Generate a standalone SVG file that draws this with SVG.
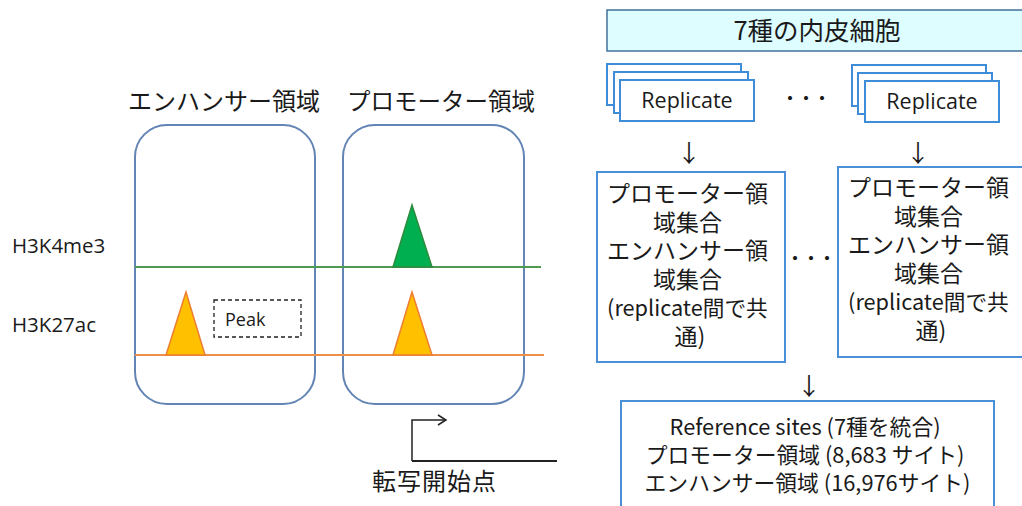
<svg xmlns="http://www.w3.org/2000/svg" width="1022" height="506" viewBox="0 0 1022 506">
<defs>
<style>
.t{font-family:"Open Sans","Noto Sans CJK JP",sans-serif;fill:#1a1a1a;}
.jp{font-family:"Noto Sans CJK JP","Open Sans",sans-serif;fill:#1a1a1a;}
.region{fill:#fff;stroke:#6385B5;stroke-width:2;}
.rep{fill:#fff;stroke:#3F8DD8;stroke-width:2;}
.box{fill:#fff;stroke:#4A90D9;stroke-width:2;}
</style>
<marker id="open" markerWidth="12" markerHeight="12" refX="10" refY="6" orient="auto" markerUnits="userSpaceOnUse">
<path d="M2,1 L10,6 L2,11" fill="none" stroke="#222" stroke-width="1.5"/>
</marker>
</defs>
<rect width="1022" height="506" fill="#fff"/>

<g id="enhancer-region">
<rect class="region" x="135" y="125" width="180" height="279" rx="32"/>
<text class="jp" x="224" y="110" font-size="24" text-anchor="middle">エンハンサー領域</text>
</g>
<g id="promoter-region">
<rect class="region" x="343" y="125" width="181" height="279" rx="32"/>
<text class="jp" x="441" y="110" font-size="23.5" text-anchor="middle">プロモーター領域</text>
</g>

<g id="tracks">
<line x1="135" y1="267" x2="541" y2="267" stroke="#4E9A4E" stroke-width="2"/>
<line x1="135" y1="355" x2="544" y2="355" stroke="#ED8F4A" stroke-width="2"/>
<text class="t" x="12" y="253" font-size="20.5">H3K4me3</text>
<text class="t" x="12" y="332" font-size="20.5">H3K27ac</text>
</g>

<g id="peaks">
<polygon points="412,205 393,267 432,267" fill="#00B050" stroke="#2E8B3E" stroke-width="1.5"/>
<polygon points="412,292 393,355 432,355" fill="#FFC000" stroke="#ED7D31" stroke-width="1.5"/>
<polygon points="186,292 166,355 205,355" fill="#FFC000" stroke="#ED7D31" stroke-width="1.5"/>
</g>

<g id="peak-label">
<rect x="214" y="300" width="87" height="37" fill="none" stroke="#222" stroke-width="1.3" stroke-dasharray="4,3"/>
<text class="t" x="225" y="326" font-size="18">Peak</text>
</g>

<g id="tss">
<path d="M412,461 L412,420 L446,420" fill="none" stroke="#222" stroke-width="1.5" marker-end="url(#open)"/>
<line x1="412" y1="461" x2="557" y2="461" stroke="#222" stroke-width="2"/>
<text class="jp" x="372" y="490" font-size="24" letter-spacing="1">転写開始点</text>
</g>

<g id="cell-types">
<rect x="607" y="10" width="420" height="41" fill="#DDFDFF" stroke="#41719C" stroke-width="1.5"/>
<text class="jp" x="817" y="39.5" font-size="25.5" text-anchor="middle">7種の内皮細胞</text>
</g>

<g id="replicate-left">
<rect class="rep" x="607" y="64" width="134" height="41"/>
<rect class="rep" x="614" y="72" width="134" height="41"/>
<rect class="rep" x="620" y="80" width="134" height="41"/>
<text class="t" x="687" y="108" font-size="21.5" text-anchor="middle">Replicate</text>
</g>
<text class="jp" x="806" y="104" font-size="16" font-weight="bold" text-anchor="middle">・・・</text>
<g id="replicate-right">
<rect class="rep" x="852" y="65" width="134" height="41"/>
<rect class="rep" x="858" y="73" width="134" height="41"/>
<rect class="rep" x="865" y="81" width="134" height="41"/>
<text class="t" x="932" y="109" font-size="21.5" text-anchor="middle">Replicate</text>
</g>

<g id="connectors">
<text class="jp" x="689" y="162" font-size="24" text-anchor="middle">↓</text>
<text class="jp" x="918" y="162" font-size="24" text-anchor="middle">↓</text>
<text class="jp" x="809" y="395" font-size="24" text-anchor="middle">↓</text>
</g>

<g id="sets-left">
<rect class="box" x="597" y="172" width="188" height="190"/>
<text class="jp" font-size="23" text-anchor="middle">
<tspan x="690" y="202">プロモーター領</tspan>
<tspan x="690" y="230.6">域集合</tspan>
<tspan x="690" y="259.2">エンハンサー領</tspan>
<tspan x="690" y="287.8">域集合</tspan>
<tspan x="690" y="316.4" font-size="21.7">(replicate間で共</tspan>
<tspan x="690" y="345">通)</tspan>
</text>
</g>
<text class="jp" x="811" y="264" font-size="16" font-weight="bold" text-anchor="middle">・・・</text>
<g id="sets-right">
<rect class="box" x="838" y="167" width="190" height="190"/>
<text class="jp" font-size="23" text-anchor="middle">
<tspan x="931" y="196">プロモーター領</tspan>
<tspan x="931" y="224.6">域集合</tspan>
<tspan x="931" y="253.2">エンハンサー領</tspan>
<tspan x="931" y="281.8">域集合</tspan>
<tspan x="931" y="310.4" font-size="21.7">(replicate間で共</tspan>
<tspan x="931" y="339">通)</tspan>
</text>
</g>

<g id="reference-sites">
<rect class="box" x="621" y="401" width="373" height="110"/>
<text class="jp" font-size="21.8" text-anchor="middle">
<tspan x="807.5" y="435">Reference sites (7種を統合)</tspan>
<tspan x="807.5" y="463">プロモーター領域 (8,683 サイト)</tspan>
<tspan x="807.5" y="491">エンハンサー領域 (16,976サイト)</tspan>
</text>
</g>
</svg>
